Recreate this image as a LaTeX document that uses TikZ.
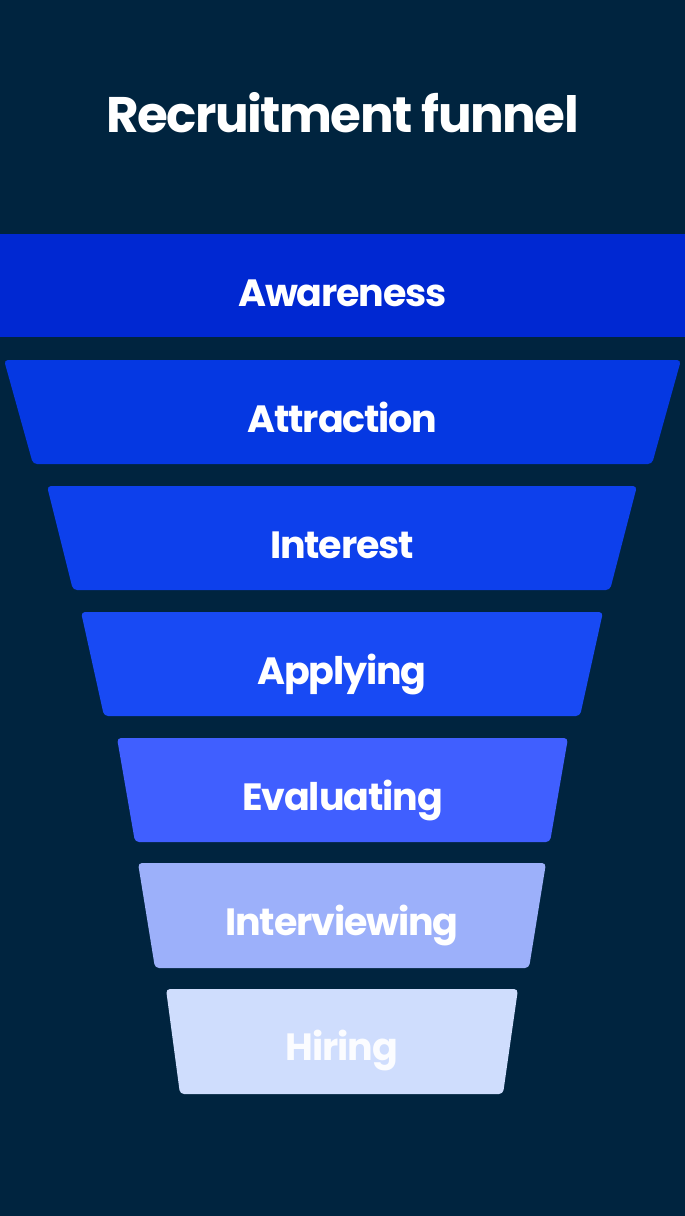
\documentclass[tikz,border=0pt]{standalone}
\usepackage{fontspec}
\setmainfont{Poppins}[LetterSpace=-3]
\definecolor{navy}{HTML}{00243F}
\definecolor{awareC}{HTML}{0028D2}
\definecolor{attractC}{HTML}{0538E2}
\definecolor{interestC}{HTML}{0D40EC}
\definecolor{applyC}{HTML}{184AF4}
\definecolor{evalC}{HTML}{405FFF}
\definecolor{interviewC}{HTML}{9CB0FA}
\definecolor{hireC}{HTML}{CFDDFD}
\begin{document}
\begin{tikzpicture}[x=1pt, y=-1pt,
    stage/.style={rounded corners=4pt},
    stagelabel/.style={text=white, anchor=base, font=\bfseries\fontsize{38}{38}\selectfont}]
    % ===== background and title =====
    \fill[navy] (0,0) rectangle (685,1216);
    \node[text=white, anchor=base, font=\bfseries\fontsize{50}{50}\selectfont] (title) at (342.5,132) {Recruitment funnel};

    % ===== funnel stages =====
    \fill[awareC] (0,234) rectangle (685,337);
    \node[stagelabel] (awareness) at (342.5,306) {Awareness};

    \fill[attractC, stage] (4,360) -- (681,360) -- (652,464) -- (33,464) -- cycle;
    \node[stagelabel] (attraction) at (342.5,432) {Attraction};

    \fill[interestC, stage] (47,486) -- (637,486) -- (610,590) -- (73,590) -- cycle;
    \node[stagelabel] (interest) at (342,558) {Interest};

    \fill[applyC, stage] (81,612) -- (603,612) -- (580,716) -- (104,716) -- cycle;
    \node[stagelabel] (applying) at (342,684) {Applying};

    \fill[evalC, stage] (117,738) -- (568,738) -- (550,842) -- (135,842) -- cycle;
    \node[stagelabel] (evaluating) at (342.5,810) {Evaluating};

    \fill[interviewC, stage] (138,863) -- (546,863) -- (529,968) -- (155,968) -- cycle;
    \node[stagelabel] (interviewing) at (342,935) {Interviewing};

    \fill[hireC, stage] (166,989) -- (518,989) -- (503,1094) -- (180,1094) -- cycle;
    \node[stagelabel, text=white!92!hireC] (hiring) at (342,1060) {Hiring};
\end{tikzpicture}
\end{document}
